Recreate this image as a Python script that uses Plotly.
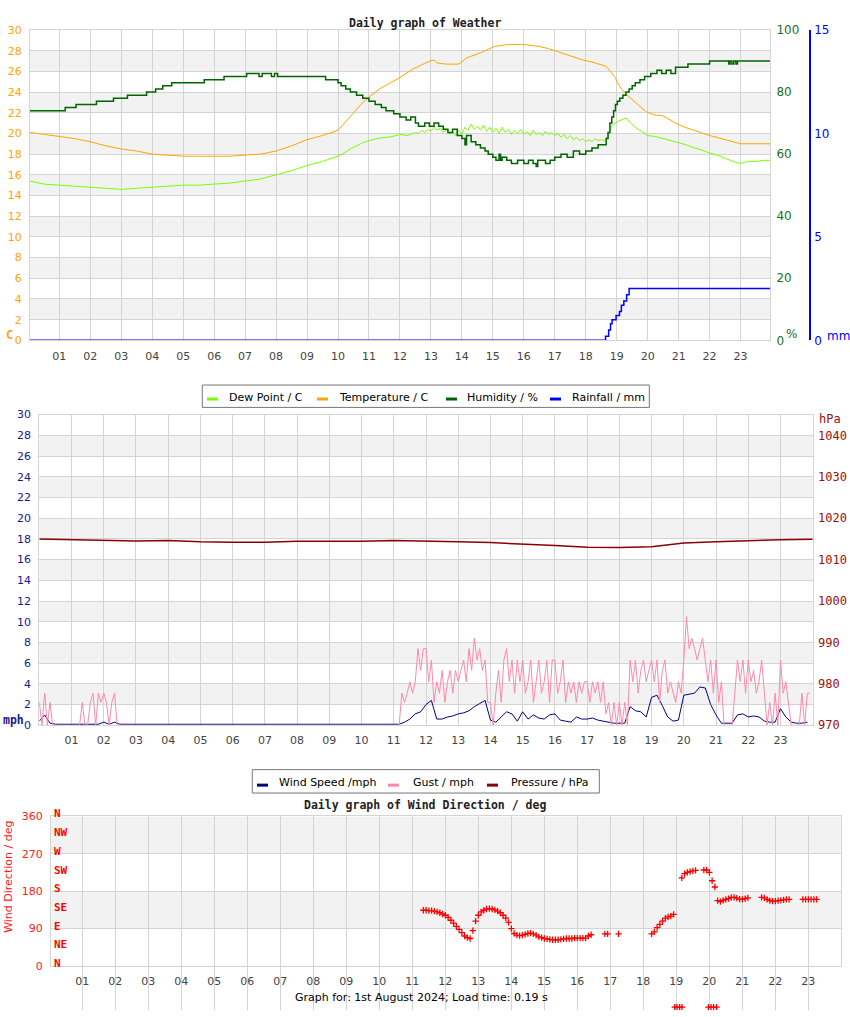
import numpy as np
import plotly.graph_objects as go

W, H = 850, 1017
def fx(x): return x / W
def fy(y): return 1 - y / H

HOUR_TICKS = list(range(1, 24))
HOUR_LABELS = [f"{h:02d}" for h in HOUR_TICKS]

# ---------------- Panel 1: weather ----------------
temp_hours = [0.05,0.5,1.0,1.5,2.0,2.5,3.0,3.5,4.0,4.5,5.0,5.5,6.0,6.5,7.0,7.5,8.0,8.5,9.0,9.5,
              10.0,10.2,10.4,10.6,10.8,11.0,11.34,11.7,12.0,12.4,12.7,12.96,13.1,13.2,13.5,13.9,
              14.15,14.6,15.05,15.5,16.0,16.5,16.8,17.2,17.5,17.9,18.2,18.45,18.65,18.8,18.95,
              19.1,19.3,19.6,19.95,20.2,20.5,20.9,21.2,21.5,22.0,22.5,23.0,23.5,23.95]
temp_c = [20.1,19.9,19.7,19.5,19.2,18.8,18.5,18.3,18.0,17.9,17.8,17.8,17.8,17.8,17.9,18.0,18.3,18.8,19.4,19.8,
          20.3,21.0,21.7,22.4,23.0,23.5,24.3,24.9,25.4,26.2,26.6,27.0,27.1,26.8,26.7,26.7,
          27.3,27.8,28.4,28.6,28.6,28.4,28.2,27.8,27.5,27.1,26.9,26.7,26.5,26.0,25.4,
          24.5,23.8,23.0,22.1,21.8,21.7,21.0,20.6,20.3,19.8,19.4,19.0,19.0,19.0]

dew_hours = [0.05,0.5,1.0,1.5,2.0,2.5,3.0,3.5,4.0,4.5,5.0,5.5,6.0,6.5,7.0,7.5,8.0,8.5,9.0,9.5,
             10.0,10.2,10.4,10.6,10.8,11.0,11.25,11.5,11.75,12.0,12.25,
             12.5,12.6,12.7,12.8,12.9,13.0,13.1,13.2,13.3,13.4,13.5,13.6,13.7,13.8,13.9,
             14.0,14.1,14.2,14.3,14.4,14.5,14.6,14.7,14.8,14.9,15.0,15.1,15.2,15.3,15.4,
             15.5,15.6,15.7,15.8,15.9,16.0,16.1,16.2,16.3,16.4,16.5,16.6,16.7,16.8,16.9,
             17.0,17.1,17.2,17.3,17.4,17.5,17.6,17.7,17.8,17.9,18.0,18.1,18.2,18.3,18.4,
             18.5,18.6,18.7,18.85,19.0,19.15,19.3,19.45,19.6,19.8,20.0,20.25,
             20.5,20.75,21.0,21.25,21.5,21.75,22.0,22.25,22.5,22.75,23.0,23.25,23.5,23.75,23.95]
dew_c = [15.4,15.1,15.0,14.9,14.8,14.7,14.6,14.7,14.8,14.9,15.0,15.0,15.1,15.2,15.4,15.6,16.0,16.4,16.9,17.3,
         17.8,18.1,18.5,18.8,19.1,19.3,19.5,19.6,19.7,19.9,19.8,
         20.1,20.0,20.3,20.1,20.4,20.2,20.6,20.3,20.5,20.1,20.4,19.9,20.2,19.8,20.3,
         20.0,20.6,20.3,20.9,20.4,20.7,20.3,20.8,20.2,20.6,20.1,20.5,20.0,20.6,20.1,
         20.4,19.9,20.3,20.0,20.4,19.9,20.2,19.8,20.3,19.9,20.1,19.8,20.2,19.9,20.1,
         19.8,20.0,19.6,19.9,19.5,19.8,19.4,19.6,19.3,19.5,19.2,19.4,19.2,19.5,19.3,
         19.4,19.3,19.6,20.8,21.1,21.3,21.5,21.0,20.6,20.2,19.8,19.7,
         19.5,19.3,19.1,18.9,18.6,18.4,18.1,17.9,17.6,17.3,17.1,17.3,17.3,17.4,17.4]

hum_hours = [0.05,1.19,1.54,2.2,2.75,3.2,3.82,4.11,4.34,4.63,5.68,6.32,7.05,7.45,7.55,7.85,7.95,8.05,
             9.6,10.0,10.1,10.25,10.4,10.6,10.8,11.0,11.2,11.4,11.55,11.8,12.0,12.2,12.35,12.5,12.6,
             12.8,12.95,13.1,13.25,13.4,13.55,13.7,13.85,14.0,14.1,14.15,14.3,14.45,14.6,14.75,14.85,15.0,
             15.1,15.2,15.25,15.3,15.45,15.6,15.8,16.0,16.15,16.3,16.4,16.45,16.5,16.7,16.85,17.0,17.2,17.4,17.6,17.8,18.0,
             18.2,18.4,18.6,18.66,18.72,18.78,18.84,18.9,18.96,19.02,19.1,19.2,19.3,19.4,19.5,19.6,
             19.75,19.9,20.1,20.3,20.45,20.6,20.75,20.9,21.3,22.0,22.62,22.66,22.72,22.78,22.85,22.9,23.95]
hum_pct = [74,75,76,77,78,79,80,81,82,83,84,85,86,85,86,85,86,85,
           84,83,82,81,80,79,78,77,76,75,74,73,72,71,72,70,69,
           70,69,70,69,68,67,68,66,65,63,66,64,63,62,61,60,59,
           58,60,58,59,58,57,58,57,58,57,56,58,58,57,58,59,60,59,61,60,61,
           62,63,63,65,67,70,72,74,76,77,78,79,80,81,82,83,
           84,85,86,87,86,87,86,88,89,90,89,90,89,90,89,90,90]

rain_hours = [0.05,18.64,18.74,18.80,18.85,18.98,19.09,19.15,19.23,19.32,19.40,23.95]
rain_mm = [0.0,0.2,0.5,0.8,1.0,1.2,1.4,1.7,1.9,2.2,2.5,2.5]

# ---------------- Panel 2: wind / pressure ----------------
# wind speed, 10-minute readings from 00:00
wind_mph = [0.4,1.0,0.2,0.1,0.1,0.1,  0.1,0.1,0.1,0.1,0.1,0.1,  0.3,0.1,0.3,0.1,0.1,0.1,
            0.1,0.1,0.1,0.1,0.1,0.1,  0.1,0.1,0.1,0.1,0.1,0.1,  0.1,0.1,0.1,0.1,0.1,0.1,
            0.1,0.1,0.1,0.1,0.1,0.1,  0.1,0.1,0.1,0.1,0.1,0.1,  0.1,0.1,0.1,0.1,0.1,0.1,
            0.1,0.1,0.1,0.1,0.1,0.1,  0.1,0.1,0.1,0.1,0.1,0.1,  0.1,0.1,0.3,0.6,1.1,1.3,
            2.0,2.4,0.6,0.6,0.8,0.9,  1.1,1.2,1.4,1.8,2.1,2.4,  0.5,0.3,0.8,1.3,1.1,0.4,
            1.3,0.6,1.0,0.7,0.6,1.0,  1.1,0.5,0.4,0.3,0.8,0.6,  0.6,0.7,0.5,0.4,0.3,0.2,
            0.2,0.2,1.8,1.4,1.3,0.8,  2.7,2.9,1.9,0.8,0.4,0.5,  2.9,3.0,3.1,3.7,3.6,2.0,
            1.0,0.2,0.2,0.2,1.0,1.1,  0.8,0.9,0.8,0.4,0.3,0.3,  1.6,0.8,0.3,0.2,0.2,0.3]
# gust, 5-minute readings from 00:00
gust_mph = [2.2,0,3.1,0,2.2,0,0,0,0,0,0,0,
            0,0,0,0,2.2,0,0,2.2,3.1,0,3.1,2.2,
            3.1,2.2,0,2.2,3.1,0,0,0,0,0,0,0,
            0,0,0,0,0,0,0,0,0,0,0,0,
            0,0,0,0,0,0,0,0,0,0,0,0,
            0,0,0,0,0,0,0,0,0,0,0,0,
            0,0,0,0,0,0,0,0,0,0,0,0,
            0,0,0,0,0,0,0,0,0,0,0,0,
            0,0,0,0,0,0,0,0,0,0,0,0,
            0,0,0,0,0,0,0,0,0,0,0,0,
            0,0,0,0,0,0,0,0,0,0,0,0,
            0,0,0,3.1,2.2,3.1,4.2,3.1,4.2,7.4,5.3,7.4,
            7.4,4.2,6.3,2.2,4.2,3.1,5.3,2.2,4.2,5.3,3.1,5.3,
            4.2,5.3,6.3,4.2,7.4,5.3,8.4,6.3,7.4,5.3,6.3,2.2,
            2.2,0,3.1,5.3,2.2,6.3,7.4,4.2,6.3,3.1,6.3,4.2,
            6.3,3.1,4.2,6.3,2.2,4.2,6.3,3.1,4.2,6.3,2.2,6.3,
            6.3,3.1,4.2,6.3,2.2,4.2,3.1,4.2,2.2,4.2,3.1,4.2,
            4.2,2.2,4.2,3.1,4.2,2.2,4.2,1.1,2.2,0,2.2,0,
            2.2,0,2.2,0,6.3,4.2,6.3,3.1,5.3,6.3,4.2,5.3,
            6.3,4.2,6.3,2.2,5.3,6.3,3.1,4.2,3.1,2.2,4.2,3.1,
            6.3,10.5,7.4,8.4,7.4,6.3,7.4,8.4,6.3,4.2,6.3,3.1,
            6.3,2.2,4.2,0,0,0,0,3.1,6.3,4.2,6.3,3.1,
            6.3,4.2,5.3,3.1,4.2,6.3,3.1,0,2.2,0,3.1,0,
            6.3,3.1,4.2,2.2,0,0,0,0,3.1,0,3.1,3.1]
press_hours = list(range(25))
press_hpa = [1015.0,1014.8,1014.6,1014.5,1014.6,1014.3,1014.2,1014.2,1014.4,1014.4,1014.4,1014.6,
             1014.5,1014.3,1014.1,1013.8,1013.4,1013.0,1012.9,1013.1,1014.0,1014.3,1014.6,1014.8,1014.9]

# ---------------- Panel 3: wind direction ----------------
# 5-minute readings from 11:00 (None = no reading)
wdir_deg = [None,None,None,None,134,134,133,133,132,130,128,125,
            122,117,110,103,95,88,80,72,68,66,85,108,
            122,130,134,137,138,137,135,132,128,122,115,105,
            90,78,74,73,74,76,78,79,77,74,70,68,
            66,65,64,63,63,63,64,65,66,66,66,67,
            67,67,67,67,72,75,None,None,None,None,77,77,
            None,None,None,77,None,None,None,None,None,None,None,None,
            None,None,None,77,82,92,100,108,115,118,120,124,
            None,None,212,222,225,227,229,230,None,None,231,231,
            225,205,190,157,155,158,160,162,165,165,163,161,
            160,162,164,None,None,None,None,165,164,160,157,156,
            156,157,158,159,160,160,None,None,None,None,160,160,
            160,160,160,160,None,None,None,None,None,None,None,None]
# out-of-range readings plotted below the chart
wdir_low_hours = [18.95,19.02,19.1,19.17,19.97,20.05,20.13,20.22]
wdir_low_deg = [-99,-99,-99,-99,-99,-99,-99,-99]

t10 = np.arange(len(wind_mph)) / 6.0
t5 = np.arange(len(gust_mph)) / 12.0
tdir = 11 + np.arange(len(wdir_deg)) / 12.0

GRID = '#d4d4d4'
BAND = '#f2f2f2'
ORANGE = '#FFA500'
GREEN = '#006400'
NAVY = '#1a1a8a'
DRED = '#8b0000'
RED = '#ff1a1a'
TICKGRAY = '#444444'
FONT = 'DejaVu Sans'
MONO = 'DejaVu Sans Mono'

# pixel geometry of the direction panel (used to extend its scale below the chart)
DIR_TOP, DIR_BOT = 820.7, 972.3
px_per_deg = (DIR_BOT - DIR_TOP) / 360.0
low_range_min = -(H - DIR_BOT) / px_per_deg

fig = go.Figure()
# panel 1
fig.add_trace(go.Scatter(x=dew_hours, y=dew_c, mode='lines', line=dict(color='#7CFC00', width=1), xaxis='x', yaxis='y', showlegend=False))
fig.add_trace(go.Scatter(x=temp_hours, y=temp_c, mode='lines', line=dict(color=ORANGE, width=1), xaxis='x', yaxis='y', showlegend=False))
fig.add_trace(go.Scatter(x=hum_hours, y=hum_pct, mode='lines', line=dict(color=GREEN, width=1.5, shape='hv'), xaxis='x', yaxis='y2', showlegend=False))
fig.add_trace(go.Scatter(x=rain_hours, y=rain_mm, mode='lines', line=dict(color='#0000ff', width=1.5, shape='hv'), xaxis='x', yaxis='y3', showlegend=False))
# panel 2
fig.add_trace(go.Scatter(x=t10, y=wind_mph, mode='lines', line=dict(color='#000080', width=1), xaxis='x2', yaxis='y4', showlegend=False))
fig.add_trace(go.Scatter(x=t5, y=gust_mph, mode='lines', line=dict(color='#ff88aa', width=1), xaxis='x2', yaxis='y4', showlegend=False))
fig.add_trace(go.Scatter(x=press_hours, y=press_hpa, mode='lines', line=dict(color=DRED, width=1.5), xaxis='x2', yaxis='y5', showlegend=False))
# panel 3
fig.add_trace(go.Scatter(x=tdir, y=wdir_deg, mode='markers', marker=dict(symbol='cross-thin', size=4.5, line=dict(width=1.3, color='red')), xaxis='x3', yaxis='y6', showlegend=False))
fig.add_trace(go.Scatter(x=wdir_low_hours, y=wdir_low_deg, mode='markers', marker=dict(symbol='cross-thin', size=4.5, line=dict(width=1.3, color='red')), xaxis='x3', yaxis='y7', showlegend=False))

def xax(dom, rng, anchor):
    return dict(domain=dom, range=rng, anchor=anchor, tickvals=HOUR_TICKS, ticktext=HOUR_LABELS,
                showgrid=True, gridcolor=GRID, gridwidth=1, zeroline=False, showline=True, linecolor=GRID,
                linewidth=1, mirror=True, ticks='outside', ticklen=5, tickcolor='rgba(0,0,0,0)',
                tickfont=dict(family=FONT, size=11, color=TICKGRAY), fixedrange=True)

def yax(dom, rng, anchor, tickvals, color, family=FONT, size=11):
    return dict(domain=dom, range=rng, anchor=anchor, tickvals=tickvals, showgrid=True, gridcolor=GRID,
                zeroline=False, showline=True, linecolor=GRID, linewidth=1, mirror=True, ticks='outside',
                ticklen=5, tickcolor='rgba(0,0,0,0)', tickfont=dict(family=family, size=size, color=color))

layout = dict(
    width=W, height=H, margin=dict(l=0, r=0, t=0, b=0), paper_bgcolor='white', plot_bgcolor='white',
    showlegend=False,
    xaxis=xax([fx(30), fx(770)], [0.054, 23.95], 'y'),
    yaxis=yax([fy(338), fy(23.3)], [0, 30], 'x', list(range(0, 31, 2)), ORANGE),
    yaxis2=dict(overlaying='y', side='right', anchor='x', range=[0, 100], tickvals=[0, 20, 40, 60, 80, 100],
                showgrid=False, zeroline=False, showline=False, ticks='outside', ticklen=3,
                tickcolor='rgba(0,0,0,0)', tickfont=dict(family=FONT, size=12, color='#1e6e1e')),
    yaxis3=dict(overlaying='y', side='right', anchor='free', position=fx(810), range=[0, 15],
                tickvals=[0, 5, 10, 15], showgrid=False, zeroline=False, showline=True, linecolor='#0000ff',
                linewidth=1.5, ticks='outside', ticklen=1, tickcolor='rgba(0,0,0,0)',
                tickfont=dict(family=FONT, size=12, color='#0000ff')),
    xaxis2=xax([fx(39.3), fx(812.7)], [0, 24], 'y4'),
    yaxis4=yax([fy(728.3), fy(413.3)], [0, 30], 'x2', list(range(0, 31, 2)), NAVY),
    yaxis5=dict(overlaying='y4', side='right', anchor='x2', range=[970, 1045],
                tickvals=list(range(970, 1041, 10)), showgrid=False, zeroline=False, showline=False,
                ticks='outside', ticklen=2, tickcolor='rgba(0,0,0,0)',
                tickfont=dict(family=MONO, size=12, color='#9b1010')),
    xaxis3=xax([fx(51), fx(840.7)], [0.05, 23.98], 'y6'),
    yaxis6=yax([fy(DIR_BOT), fy(DIR_TOP)], [0, 360], 'x3', [0, 90, 180, 270, 360], RED),
    # same degree scale continued below the direction panel (hidden axis)
    yaxis7=dict(domain=[0, fy(DIR_BOT)], range=[low_range_min, 0], anchor='x3', visible=False,
                showgrid=False, zeroline=False),
)

shapes = []
for v in range(2, 30, 4):
    shapes.append(dict(type='rect', xref='x domain', yref='y', x0=0, x1=1, y0=v, y1=v + 2,
                       fillcolor=BAND, line=dict(width=0), layer='below'))
    shapes.append(dict(type='rect', xref='x2 domain', yref='y4', x0=0, x1=1, y0=v, y1=v + 2,
                       fillcolor=BAND, line=dict(width=0), layer='below'))
for v in (90, 270):
    shapes.append(dict(type='rect', xref='x3 domain', yref='y6', x0=0, x1=1, y0=v, y1=v + 90,
                       fillcolor=BAND, line=dict(width=0), layer='below'))

annotations = []
def ann(text, x, y, color='black', size=11, xanchor='center', yanchor='middle', family=FONT, angle=0):
    annotations.append(dict(text=text, x=fx(x), y=fy(y), xref='paper', yref='paper', showarrow=False,
                            xanchor=xanchor, yanchor=yanchor, textangle=angle,
                            font=dict(family=family, size=size, color=color)))

# titles and axis unit labels
ann('<b>Daily graph of Weather</b>', 425, 16.5, '#222222', 11.5, family=MONO)
ann('<b>C</b>', 4, 333, ORANGE, 12, xanchor='left', family=MONO)
ann('%', 784, 332, '#1e6e1e', 12, xanchor='left')
ann('mm', 825, 334, '#0000ff', 12, xanchor='left')
ann('<b>mph</b>', 1, 722.5, NAVY, 11.5, xanchor='left', family=MONO)
ann('hPa', 843, 418, '#9b1010', 12, xanchor='right', family=MONO)
ann('<b>Daily graph of Wind Direction / deg</b>', 425, 809, '#222222', 11.5, family=MONO)
ann('Wind Direction / deg', 9, 882, RED, 11, angle=-90)
ann('Graph for: 1st August 2024; Load time: 0.19 s', 421, 1004, 'black', 11)

# compass labels
compass = ['N', 'NW', 'W', 'SW', 'S', 'SE', 'E', 'NE', 'N']
compass_y = [817.3, 836.7, 856, 875.3, 894, 913.3, 932.3, 951, 970.3]
for lab, yy in zip(compass, compass_y):
    ann('<b>' + lab + '</b>', 51.5, yy, 'red', 11, xanchor='left', family=MONO)

# legends (drawn as boxes)
def legend_box(x0, y0, x1, y1, items):
    shapes.append(dict(type='rect', xref='paper', yref='paper', x0=fx(x0), x1=fx(x1), y0=fy(y1), y1=fy(y0),
                       fillcolor='white', line=dict(color='#777777', width=1), layer='above'))
    for (sx, tx, ly, ty, col, txt) in items:
        shapes.append(dict(type='line', xref='paper', yref='paper', x0=fx(sx), x1=fx(sx + 11), y0=fy(ly), y1=fy(ly),
                           line=dict(color=col, width=3), layer='above'))
        ann(txt, tx, ty, 'black', 11, xanchor='left')

legend_box(202.3, 383.3, 649.3, 406, [
    (207, 227, 397.5, 395.5, '#7CFC00', 'Dew Point / C'),
    (317, 337, 397.5, 395.5, ORANGE, 'Temperature / C'),
    (446, 465, 397.5, 395.5, GREEN, 'Humidity / %'),
    (550, 570, 397.5, 395.5, '#0000ff', 'Rainfall / mm'),
])
legend_box(252.3, 773.3, 599.3, 797, [
    (257, 277, 789, 786.5, '#000080', 'Wind Speed /mph'),
    (388, 411, 789, 786.5, '#ff88aa', 'Gust / mph'),
    (487, 509, 789, 786.5, DRED, 'Pressure / hPa'),
])

layout['shapes'] = shapes
layout['annotations'] = annotations
fig.update_layout(**layout)
fig.write_html('out.html')
